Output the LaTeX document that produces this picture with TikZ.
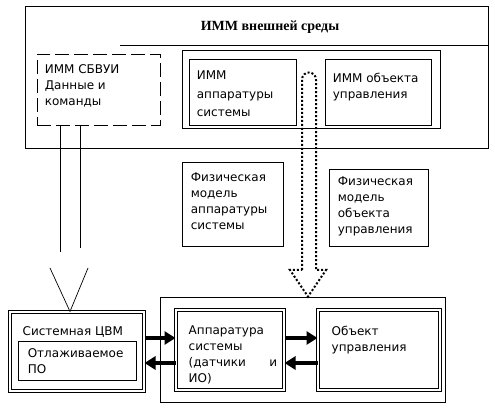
\documentclass[tikz,border=0pt]{standalone}
\usepackage{fontspec}
\setmainfont{DejaVu Sans}
\newfontfamily\titlefont{Liberation Serif}
\usepackage{tikz}
\usetikzlibrary{arrows.meta, positioning, calc}

\begin{document}
\begin{tikzpicture}[
    x=1pt, y=-1pt,
    box/.style={rectangle, draw=black, line width=0.8pt, inner sep=0pt},
    dbox/.style={rectangle, draw=black, line width=1pt, double, double distance=1.6pt, inner sep=0pt},
    brokenbox/.style={rectangle, draw=black, line width=0.7pt, dash pattern=on 14pt off 5pt, inner sep=0pt},
    txt/.style={anchor=north west, align=left, inner xsep=8pt, inner ysep=11pt, font=\fontsize{12}{16}\selectfont},
    bigarrow/.style={-{Triangle[length=11pt, width=13pt]}, line width=4pt},
    hollow/.style={line width=0.7pt},
    dotarrow/.style={line width=2pt, dotted, line cap=butt}
]
    \useasboundingbox (0,0) rectangle (495,411);

    \node[box, minimum width=463pt, minimum height=142pt] (env) at (256.5,77) {};
    \node[font=\titlefont\bfseries\fontsize{14}{16}\selectfont] (envtitle) at (270,27) {ИММ внешней среды};
    \draw[line width=0.8pt] (120,45) -- (env.east |- 0,45);

    \node[brokenbox, minimum width=123pt, minimum height=71pt,
          label={[txt]north west:ИММ СБВУИ\\Данные и\\команды}] (sbvui) at (98.5,89.5) {};
    \node[box, minimum width=258pt, minimum height=78pt] (immbox) at (311,89) {};
    \node[box, minimum width=107pt, minimum height=66pt,
          label={[txt, inner ysep=12pt, font=\fontsize{12}{18.5}\selectfont]north west:ИММ\\аппаратуры\\системы}] (immhw) at (242.5,92) {};
    \node[box, minimum width=106pt, minimum height=66pt,
          label={[txt, inner ysep=14pt]north west:ИММ объекта\\управления}] (immobj) at (378,92) {};

    \node[box, minimum width=101pt, minimum height=84pt,
          label={[txt, inner xsep=9pt]north west:Физическая\\модель\\аппаратуры\\системы}] (phyhw) at (232.5,204) {};
    \node[box, minimum width=99pt, minimum height=77pt,
          label={[txt, inner xsep=9pt, inner ysep=8pt]north west:Физическая\\модель\\объекта\\управления}] (phyobj) at (378.5,207.5) {};

    \node[dbox, minimum width=134pt, minimum height=79pt,
          label={[txt, inner ysep=15pt, inner xsep=13pt]north west:Системная ЦВМ}] (cvm) at (77,351.5) {};
    \node[box, minimum width=118pt, minimum height=39pt,
          label={[txt, inner ysep=7pt, inner xsep=10pt]north west:Отлаживаемое\\ПО}] (po) at (77,361) {};

    \node[box, minimum width=285pt, minimum height=105pt] (hwbig) at (302.5,349.5) {};
    \node[dbox, minimum width=108pt, minimum height=80pt,
          label={[txt, inner ysep=16pt, inner xsep=13pt]north west:Аппаратура\\системы\\(датчики\quad\ \ \ и\\ИО)}] (hw) at (230,350) {};
    \node[dbox, minimum width=122pt, minimum height=80pt,
          label={[txt, inner ysep=16pt, inner xsep=14pt]north west:Объект\\управления}] (obj) at (379,350) {};

    \draw[bigarrow] ([yshift=13.5pt]cvm.east) -- ([yshift=13.5pt]cvm.east -| hw.west);
    \draw[bigarrow] ([yshift=-13pt]hw.west) -- ([yshift=-13pt]hw.west -| cvm.east);
    \draw[bigarrow] ([yshift=12pt]hw.east) -- ([yshift=12pt]hw.east -| obj.west);
    \draw[bigarrow] ([yshift=-13pt]obj.west) -- ([yshift=-13pt]obj.west -| hw.east);

    \coordinate (ctip) at (cvm.north -| 70,0);
    \draw[hollow] (sbvui.south -| 60,0) -- (60,252);
    \draw[hollow] (sbvui.south -| 80,0) -- (80,248);
    \draw[hollow] (50,268) -- (ctip) -- (88,268);

    \coordinate (dtip) at (hwbig.north -| 308,0);
    \draw[dotarrow] (302,270) -- (302,80) .. controls (302,70) and (316,70) .. (316,80)
        -- (316,270) -- (326,270) -- (dtip) -- (290,270) -- cycle;
\end{tikzpicture}
\end{document}
